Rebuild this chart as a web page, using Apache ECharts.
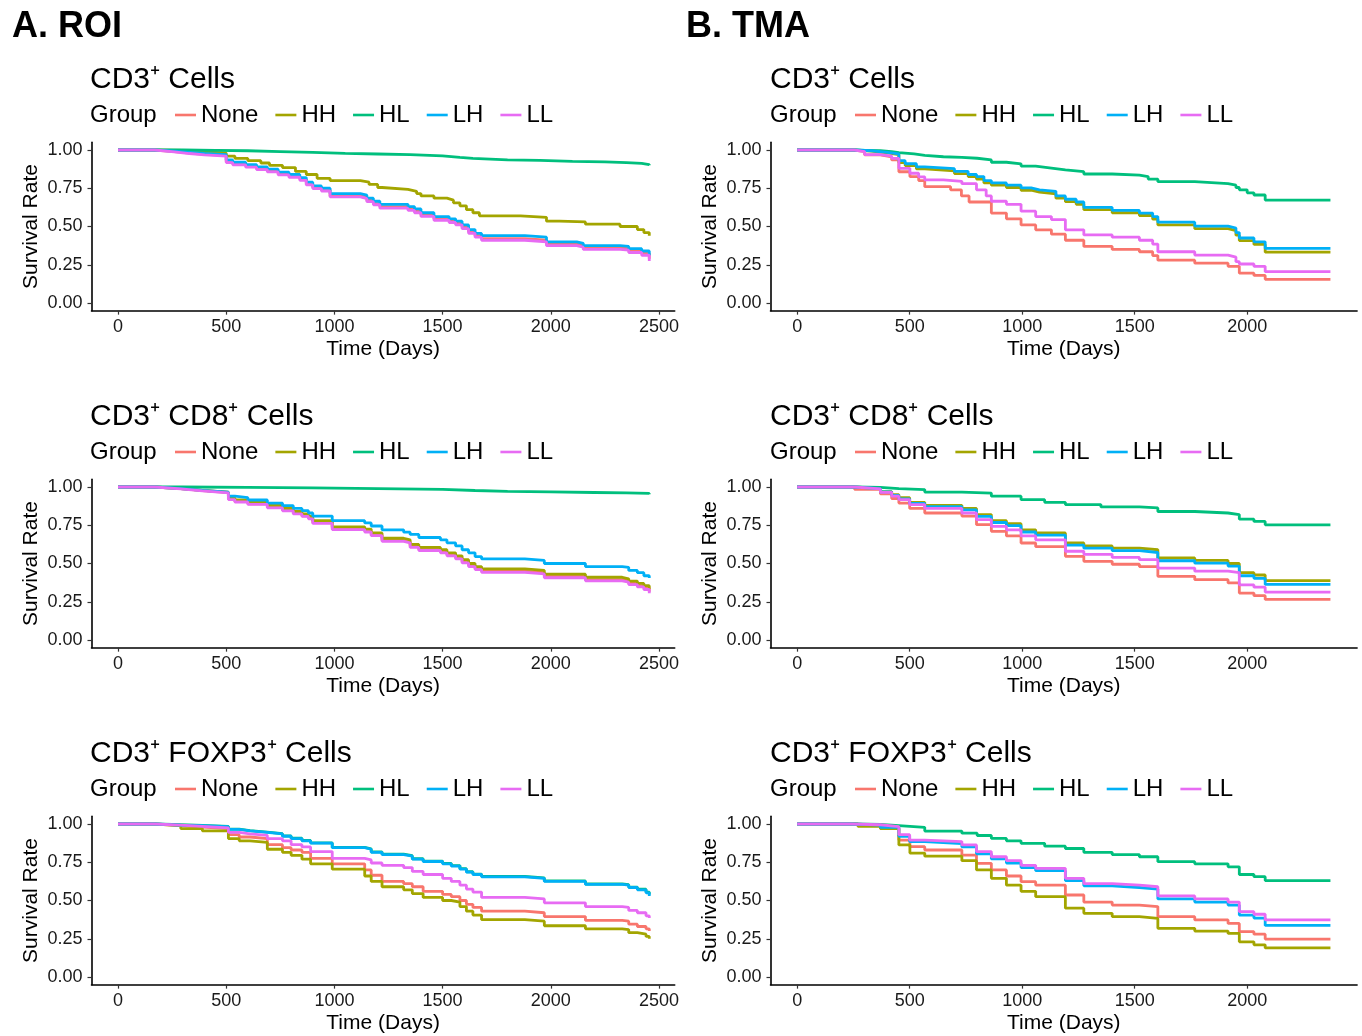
<!DOCTYPE html>
<html>
<head>
<meta charset="utf-8">
<script src="https://cdn.jsdelivr.net/npm/echarts@6/dist/echarts.min.js"></script>
<style>
html,body{margin:0;padding:0;background:#fff;}
#chart{width:1362px;height:1036px;}
</style>
</head>
<body>
<div id="chart"></div>
<script>
// ---------- DATA ----------
const groups = ['None', 'HH', 'HL', 'LH', 'LL'];
const panelTitles = ['CD3\u207A Cells', 'CD3\u207A CD8\u207A Cells', 'CD3\u207A FOXP3\u207A Cells'];
const sectionLabels = ['A. ROI', 'B. TMA'];
const xTicksROI = [0, 500, 1000, 1500, 2000, 2500];
const xTicksTMA = [0, 500, 1000, 1500, 2000];
const yTicks = [0, 0.25, 0.5, 0.75, 1];

// A. ROI — CD3+
const roiCD3_None = [[0,1],[170,0.99],[260,0.98],[330,0.972],[400,0.965],[500,0.925],[530,0.91],[590,0.895],[640,0.88],[690,0.865],[740,0.845],[790,0.83],[840,0.81],[870,0.78],[900,0.755],[940,0.74],[980,0.7],[1120,0.69],[1150,0.67],[1180,0.65],[1210,0.63],[1340,0.615],[1370,0.6],[1400,0.575],[1460,0.55],[1530,0.535],[1560,0.52],[1590,0.495],[1620,0.465],[1650,0.44],[1680,0.42],[1880,0.41],[1980,0.385],[2120,0.375],[2150,0.36],[2320,0.355],[2360,0.34],[2420,0.325],[2455,0.29]];
const roiCD3_HH = [[0,1],[170,0.997],[300,0.99],[400,0.98],[500,0.96],[540,0.945],[600,0.93],[660,0.915],[700,0.9],[760,0.885],[820,0.86],[870,0.84],[920,0.815],[980,0.8],[1120,0.79],[1160,0.775],[1200,0.755],[1220,0.742],[1340,0.73],[1380,0.715],[1400,0.7],[1460,0.685],[1520,0.672],[1550,0.655],[1580,0.635],[1610,0.61],[1640,0.59],[1670,0.57],[1860,0.56],[1980,0.535],[2040,0.53],[2160,0.515],[2320,0.5],[2400,0.48],[2430,0.46],[2455,0.44]];
const roiCD3_HL = [[0,1],[170,1.0],[300,0.998],[450,0.995],[600,0.99],[750,0.985],[900,0.978],[1050,0.974],[1200,0.97],[1350,0.962],[1500,0.952],[1580,0.945],[1640,0.935],[1800,0.932],[1950,0.925],[2100,0.922],[2250,0.918],[2350,0.912],[2420,0.905],[2455,0.9]];
const roiCD3_LH = [[0,1],[170,0.993],[260,0.985],[330,0.977],[400,0.97],[500,0.935],[530,0.92],[590,0.905],[640,0.89],[690,0.875],[740,0.855],[790,0.84],[840,0.82],[870,0.79],[900,0.765],[940,0.75],[980,0.715],[1120,0.705],[1150,0.685],[1180,0.665],[1210,0.645],[1340,0.63],[1370,0.615],[1400,0.59],[1460,0.565],[1530,0.55],[1560,0.535],[1590,0.51],[1620,0.48],[1650,0.455],[1680,0.44],[1880,0.43],[1980,0.4],[2120,0.39],[2150,0.375],[2320,0.37],[2360,0.355],[2420,0.34],[2455,0.31]];
const roiCD3_LL = [[0,1],[170,0.988],[260,0.977],[330,0.968],[400,0.96],[500,0.918],[530,0.903],[590,0.888],[640,0.872],[690,0.857],[740,0.837],[790,0.822],[840,0.802],[870,0.772],[900,0.748],[940,0.732],[980,0.693],[1120,0.682],[1150,0.662],[1180,0.642],[1210,0.62],[1340,0.606],[1370,0.59],[1400,0.566],[1460,0.541],[1530,0.526],[1560,0.511],[1590,0.486],[1620,0.456],[1650,0.43],[1680,0.41],[1880,0.4],[1980,0.375],[2120,0.365],[2150,0.35],[2320,0.345],[2360,0.33],[2420,0.312],[2455,0.275]];

// A. ROI — CD3+ CD8+
const roiCD8_None = [[0,1],[170,0.99],[290,0.977],[390,0.964],[510,0.922],[540,0.905],[600,0.89],[690,0.868],[760,0.848],[810,0.828],[850,0.812],[880,0.797],[900,0.768],[990,0.728],[1140,0.712],[1170,0.688],[1220,0.652],[1320,0.642],[1350,0.612],[1390,0.592],[1490,0.577],[1520,0.557],[1560,0.537],[1590,0.511],[1620,0.487],[1650,0.467],[1680,0.45],[1880,0.44],[1970,0.415],[2160,0.395],[2330,0.385],[2360,0.37],[2400,0.355],[2430,0.34],[2455,0.315]];
const roiCD8_HH = [[0,1],[170,0.99],[290,0.978],[390,0.966],[510,0.93],[540,0.915],[600,0.9],[690,0.88],[760,0.86],[810,0.84],[850,0.825],[880,0.81],[900,0.78],[990,0.74],[1140,0.725],[1170,0.7],[1220,0.665],[1320,0.655],[1350,0.625],[1390,0.605],[1490,0.59],[1520,0.57],[1560,0.55],[1590,0.525],[1620,0.5],[1650,0.48],[1680,0.465],[1880,0.455],[1970,0.43],[2160,0.41],[2330,0.4],[2360,0.385],[2400,0.37],[2430,0.355],[2455,0.335]];
const roiCD8_HL = [[0,1],[300,0.998],[600,0.994],[900,0.99],[1200,0.984],[1500,0.977],[1650,0.971],[1800,0.968],[2000,0.964],[2200,0.961],[2350,0.958],[2455,0.952]];
const roiCD8_LH = [[0,1],[170,0.99],[290,0.978],[390,0.966],[510,0.94],[540,0.93],[600,0.915],[690,0.895],[760,0.878],[810,0.86],[850,0.845],[880,0.83],[900,0.81],[990,0.78],[1140,0.765],[1170,0.745],[1220,0.72],[1320,0.705],[1350,0.69],[1390,0.67],[1490,0.655],[1520,0.635],[1560,0.615],[1590,0.59],[1620,0.57],[1650,0.545],[1680,0.53],[1880,0.52],[1970,0.5],[2160,0.48],[2330,0.475],[2360,0.455],[2400,0.44],[2430,0.42],[2455,0.405]];
const roiCD8_LL = [[0,1],[170,0.988],[290,0.975],[390,0.962],[510,0.918],[540,0.902],[600,0.886],[690,0.864],[760,0.844],[810,0.824],[850,0.808],[880,0.792],[900,0.762],[990,0.722],[1140,0.706],[1170,0.682],[1220,0.645],[1320,0.635],[1350,0.605],[1390,0.585],[1490,0.57],[1520,0.55],[1560,0.53],[1590,0.504],[1620,0.48],[1650,0.46],[1680,0.442],[1880,0.432],[1970,0.407],[2160,0.387],[2330,0.378],[2360,0.362],[2400,0.347],[2430,0.33],[2455,0.305]];

// A. ROI — CD3+ FOXP3+
const roiFOX_None = [[0,1],[170,0.99],[290,0.98],[390,0.97],[510,0.93],[560,0.915],[610,0.905],[690,0.865],[760,0.845],[800,0.83],[850,0.815],[890,0.775],[990,0.74],[1140,0.7],[1170,0.665],[1220,0.625],[1320,0.61],[1360,0.59],[1410,0.56],[1500,0.54],[1540,0.525],[1580,0.5],[1610,0.475],[1640,0.455],[1680,0.43],[1880,0.42],[1970,0.395],[2160,0.37],[2330,0.365],[2360,0.345],[2400,0.33],[2440,0.315],[2455,0.3]];
const roiFOX_HH = [[0,1],[170,0.99],[290,0.97],[390,0.955],[510,0.905],[560,0.89],[610,0.88],[690,0.835],[760,0.815],[800,0.795],[850,0.77],[890,0.74],[990,0.705],[1140,0.66],[1170,0.625],[1220,0.59],[1320,0.57],[1360,0.545],[1410,0.52],[1500,0.5],[1540,0.49],[1580,0.46],[1610,0.43],[1640,0.405],[1680,0.375],[1880,0.365],[1970,0.335],[2160,0.315],[2330,0.31],[2360,0.29],[2400,0.28],[2440,0.265],[2455,0.25]];
const roiFOX_HL = [[0,1],[170,0.995],[290,0.991],[390,0.985],[510,0.967],[560,0.957],[610,0.947],[690,0.937],[760,0.922],[800,0.907],[850,0.892],[890,0.877],[990,0.847],[1140,0.838],[1170,0.818],[1220,0.803],[1320,0.793],[1360,0.773],[1410,0.758],[1500,0.743],[1540,0.728],[1580,0.708],[1610,0.688],[1640,0.673],[1680,0.658],[1880,0.648],[1970,0.628],[2160,0.608],[2330,0.603],[2360,0.588],[2400,0.574],[2440,0.555],[2455,0.54]];
const roiFOX_LH = [[0,1],[170,0.993],[290,0.99],[390,0.983],[510,0.965],[560,0.955],[610,0.945],[690,0.935],[760,0.92],[800,0.905],[850,0.89],[890,0.875],[990,0.845],[1140,0.835],[1170,0.815],[1220,0.8],[1320,0.79],[1360,0.77],[1410,0.755],[1500,0.74],[1540,0.725],[1580,0.705],[1610,0.685],[1640,0.67],[1680,0.655],[1880,0.645],[1970,0.625],[2160,0.605],[2330,0.6],[2360,0.585],[2400,0.57],[2440,0.55],[2455,0.53]];
const roiFOX_LL = [[0,1],[170,0.993],[290,0.985],[390,0.975],[510,0.945],[560,0.935],[610,0.925],[690,0.905],[760,0.89],[800,0.865],[850,0.85],[890,0.82],[990,0.775],[1140,0.765],[1170,0.745],[1220,0.73],[1320,0.715],[1360,0.69],[1410,0.67],[1500,0.645],[1540,0.625],[1580,0.6],[1610,0.575],[1640,0.555],[1680,0.52],[1880,0.51],[1970,0.485],[2160,0.46],[2330,0.455],[2360,0.435],[2400,0.42],[2440,0.4],[2455,0.385]];

// B. TMA — CD3+
const tmaCD3_None = [[0,1],[255,0.99],[300,0.968],[370,0.955],[420,0.935],[452,0.858],[501,0.826],[540,0.8],[567,0.76],[682,0.74],[730,0.7],[764,0.66],[863,0.588],[930,0.55],[995,0.51],[1060,0.478],[1130,0.45],[1192,0.41],[1274,0.37],[1400,0.35],[1521,0.335],[1580,0.31],[1603,0.28],[1767,0.26],[1915,0.24],[1965,0.195],[2030,0.18],[2080,0.155],[2370,0.155]];
const tmaCD3_HH = [[0,1],[255,0.993],[330,0.982],[400,0.97],[452,0.918],[480,0.898],[530,0.876],[567,0.864],[699,0.846],[760,0.826],[797,0.81],[830,0.785],[863,0.77],[930,0.755],[995,0.737],[1040,0.725],[1077,0.714],[1150,0.685],[1192,0.662],[1240,0.645],[1274,0.61],[1400,0.59],[1521,0.572],[1580,0.548],[1603,0.51],[1767,0.486],[1915,0.473],[1950,0.443],[1965,0.408],[2030,0.383],[2080,0.332],[2370,0.33]];
const tmaCD3_HL = [[0,1],[255,0.998],[300,0.995],[370,0.99],[420,0.983],[452,0.975],[520,0.965],[567,0.956],[650,0.952],[732,0.946],[800,0.935],[863,0.92],[930,0.91],[995,0.895],[1060,0.882],[1130,0.87],[1192,0.858],[1274,0.843],[1400,0.836],[1521,0.826],[1560,0.81],[1603,0.793],[1767,0.78],[1915,0.77],[1950,0.755],[1965,0.74],[2000,0.72],[2030,0.706],[2080,0.673],[2370,0.67]];
const tmaCD3_LH = [[0,1],[255,0.995],[330,0.985],[400,0.975],[452,0.93],[480,0.91],[530,0.89],[567,0.878],[699,0.86],[760,0.84],[797,0.826],[830,0.8],[863,0.785],[930,0.77],[995,0.752],[1040,0.74],[1077,0.73],[1150,0.7],[1192,0.678],[1240,0.66],[1274,0.625],[1400,0.605],[1521,0.588],[1580,0.565],[1603,0.528],[1767,0.503],[1915,0.49],[1950,0.46],[1965,0.425],[2030,0.4],[2080,0.357],[2370,0.355]];
const tmaCD3_LL = [[0,1],[255,0.99],[300,0.97],[370,0.96],[420,0.945],[452,0.88],[501,0.848],[540,0.825],[567,0.805],[650,0.795],[732,0.78],[797,0.74],[840,0.7],[863,0.665],[930,0.645],[995,0.6],[1060,0.565],[1130,0.545],[1192,0.478],[1274,0.445],[1400,0.43],[1521,0.41],[1580,0.385],[1603,0.335],[1767,0.313],[1915,0.3],[1950,0.27],[1965,0.255],[2030,0.24],[2080,0.205],[2370,0.205]];

// B. TMA — CD3+ CD8+
const tmaCD8_None = [[0,1],[255,0.985],[370,0.955],[420,0.925],[452,0.895],[500,0.86],[567,0.83],[732,0.81],[797,0.754],[863,0.71],[930,0.68],[995,0.634],[1060,0.61],[1192,0.547],[1274,0.514],[1400,0.495],[1521,0.48],[1603,0.416],[1767,0.394],[1915,0.373],[1965,0.307],[2030,0.29],[2080,0.265],[2370,0.265]];
const tmaCD8_HH = [[0,1],[255,0.99],[370,0.97],[420,0.95],[452,0.93],[500,0.9],[567,0.88],[732,0.86],[797,0.82],[863,0.78],[930,0.76],[995,0.72],[1060,0.7],[1192,0.634],[1274,0.615],[1400,0.6],[1521,0.59],[1603,0.536],[1767,0.52],[1915,0.5],[1965,0.44],[2030,0.425],[2080,0.388],[2370,0.385]];
const tmaCD8_HL = [[0,1],[255,0.998],[370,0.99],[452,0.983],[567,0.967],[732,0.96],[863,0.94],[995,0.917],[1100,0.9],[1192,0.885],[1350,0.87],[1521,0.863],[1603,0.84],[1767,0.83],[1915,0.82],[1965,0.79],[2030,0.775],[2080,0.753],[2370,0.753]];
const tmaCD8_LH = [[0,1],[255,0.99],[370,0.968],[420,0.945],[452,0.922],[500,0.892],[567,0.872],[732,0.85],[797,0.808],[863,0.768],[930,0.747],[995,0.706],[1060,0.686],[1192,0.62],[1274,0.6],[1400,0.584],[1521,0.572],[1603,0.518],[1767,0.502],[1915,0.483],[1965,0.42],[2030,0.403],[2080,0.363],[2370,0.36]];
const tmaCD8_LL = [[0,1],[255,0.988],[370,0.965],[420,0.94],[452,0.917],[500,0.885],[567,0.86],[732,0.83],[797,0.787],[863,0.743],[930,0.72],[995,0.68],[1060,0.655],[1192,0.58],[1274,0.56],[1400,0.54],[1521,0.525],[1603,0.47],[1767,0.45],[1915,0.44],[1965,0.36],[2030,0.345],[2080,0.313],[2370,0.31]];

// B. TMA — CD3+ FOXP3+
const tmaFOX_None = [[0,1],[255,0.99],[370,0.97],[452,0.895],[501,0.852],[567,0.83],[732,0.797],[797,0.743],[863,0.7],[930,0.66],[995,0.623],[1060,0.6],[1192,0.536],[1274,0.49],[1400,0.47],[1521,0.46],[1603,0.394],[1767,0.373],[1915,0.35],[1965,0.296],[2030,0.28],[2080,0.248],[2370,0.248]];
const tmaFOX_HH = [[0,1],[270,0.985],[370,0.97],[452,0.863],[501,0.81],[567,0.79],[732,0.76],[797,0.7],[863,0.645],[930,0.6],[995,0.56],[1060,0.525],[1192,0.45],[1274,0.416],[1400,0.395],[1521,0.383],[1603,0.318],[1767,0.3],[1915,0.285],[1965,0.23],[2030,0.21],[2080,0.19],[2370,0.19]];
const tmaFOX_HL = [[0,1],[255,0.998],[370,0.99],[452,0.978],[567,0.954],[732,0.94],[800,0.925],[863,0.906],[930,0.89],[995,0.874],[1100,0.855],[1192,0.84],[1274,0.815],[1400,0.8],[1521,0.786],[1603,0.754],[1767,0.74],[1915,0.72],[1965,0.67],[2030,0.656],[2080,0.63],[2370,0.63]];
const tmaFOX_LH = [[0,1],[240,0.993],[370,0.978],[452,0.92],[500,0.885],[567,0.872],[732,0.85],[797,0.805],[863,0.772],[930,0.745],[995,0.715],[1060,0.695],[1192,0.63],[1274,0.596],[1400,0.585],[1521,0.575],[1603,0.51],[1767,0.49],[1915,0.47],[1965,0.405],[2030,0.385],[2080,0.337],[2370,0.335]];
const tmaFOX_LL = [[0,1],[240,0.995],[370,0.983],[452,0.93],[500,0.895],[567,0.885],[732,0.863],[797,0.82],[863,0.786],[930,0.76],[995,0.73],[1060,0.71],[1192,0.645],[1274,0.61],[1400,0.6],[1521,0.59],[1603,0.53],[1767,0.51],[1915,0.49],[1965,0.427],[2030,0.41],[2080,0.373],[2370,0.373]];

// ---------- LAYOUT ----------
const colors = {None:'#F8766D', HH:'#A3A500', HL:'#00BF7D', LH:'#00B0F6', LL:'#E76BF3'};
const FONT = 'Liberation Sans, Arial, Helvetica, sans-serif';
const panels = [
  {col:0,row:0,data:{None:roiCD3_None,HH:roiCD3_HH,HL:roiCD3_HL,LH:roiCD3_LH,LL:roiCD3_LL}},
  {col:0,row:1,data:{None:roiCD8_None,HH:roiCD8_HH,HL:roiCD8_HL,LH:roiCD8_LH,LL:roiCD8_LL}},
  {col:0,row:2,data:{None:roiFOX_None,HH:roiFOX_HH,HL:roiFOX_HL,LH:roiFOX_LH,LL:roiFOX_LL}},
  {col:1,row:0,data:{None:tmaCD3_None,HH:tmaCD3_HH,HL:tmaCD3_HL,LH:tmaCD3_LH,LL:tmaCD3_LL}},
  {col:1,row:1,data:{None:tmaCD8_None,HH:tmaCD8_HH,HL:tmaCD8_HL,LH:tmaCD8_LH,LL:tmaCD8_LL}},
  {col:1,row:2,data:{None:tmaFOX_None,HH:tmaFOX_HH,HL:tmaFOX_HL,LH:tmaFOX_LH,LL:tmaFOX_LL}}
];
const cols = [
  {gridLeft:91.5, gridWidth:583.2, xmin:-122.5, xmax:2572.5, ticks:xTicksROI, textLeft:90, labelLeft:12},
  {gridLeft:770.5, gridWidth:586.6, xmin:-118.5, xmax:2488.5, ticks:xTicksTMA, textLeft:770, labelLeft:686}
];
const rowOffset = 337;

const grids = [], xAxes = [], yAxes = [], series = [], legends = [], titles = [];

sectionLabels.forEach((s, i) => {
  titles.push({text:s, left:cols[i].labelLeft, top:9, padding:0,
    textStyle:{fontFamily:FONT, fontWeight:'bold', fontSize:36, color:'#000'}});
});

panels.forEach((p, i) => {
  const c = cols[p.col];
  const dy = p.row * rowOffset;
  grids.push({left:c.gridLeft, top:142.35 + dy, width:c.gridWidth, height:168.3, containLabel:false});
  xAxes.push({
    type:'value', gridIndex:i, min:c.xmin, max:c.xmax,
    name:'Time (Days)', nameLocation:'middle', nameGap:28,
    nameTextStyle:{fontFamily:FONT, fontSize:21, color:'#000'},
    axisLine:{show:true, onZero:false, lineStyle:{color:'#000', width:1.6}},
    axisTick:{show:true, length:4, lineStyle:{color:'#333', width:1.2}, customValues:c.ticks},
    axisLabel:{fontFamily:FONT, fontSize:18, color:'#1a1a1a', margin:7, customValues:c.ticks,
      formatter:v => String(v)},
    splitLine:{show:false}
  });
  yAxes.push({
    type:'value', gridIndex:i, min:-0.05, max:1.05,
    name:'Survival Rate', nameLocation:'middle', nameGap:50,
    nameTextStyle:{fontFamily:FONT, fontSize:21, color:'#000'},
    axisLine:{show:true, onZero:false, lineStyle:{color:'#000', width:1.6}},
    axisTick:{show:true, length:4, lineStyle:{color:'#333', width:1.2}, customValues:yTicks},
    axisLabel:{fontFamily:FONT, fontSize:18, color:'#1a1a1a', margin:9, customValues:yTicks,
      formatter:v => v.toFixed(2)},
    splitLine:{show:false}
  });
  titles.push({text:panelTitles[p.row], left:c.textLeft, top:65 + dy, padding:0,
    textStyle:{fontFamily:FONT, fontWeight:'normal', fontSize:30, color:'#000'}});
  titles.push({text:'Group', left:c.textLeft, top:103 + dy, padding:0,
    textStyle:{fontFamily:FONT, fontWeight:'normal', fontSize:24, color:'#000'}});
  legends.push({
    data:groups, left:c.textLeft + 85, top:103 + dy, padding:0,
    icon:'rect', itemWidth:21, itemHeight:2.6, itemGap:17, selectedMode:false,
    textStyle:{fontFamily:FONT, fontSize:24, color:'#000'}
  });
  groups.forEach((g, k) => {
    series.push({
      type:'line', name:g, xAxisIndex:i, yAxisIndex:i, data:p.data[g],
      step:'end', showSymbol:false, symbol:'none', z:2 + k,
      lineStyle:{color:colors[g], width:2.8}, itemStyle:{color:colors[g]},
      emphasis:{disabled:true}
    });
  });
});

const chart = echarts.init(document.getElementById('chart'), null, {renderer:'canvas'});
chart.setOption({
  animation:false, backgroundColor:'#fff',
  title:titles, legend:legends, grid:grids, xAxis:xAxes, yAxis:yAxes, series:series
});
</script>
</body>
</html>
